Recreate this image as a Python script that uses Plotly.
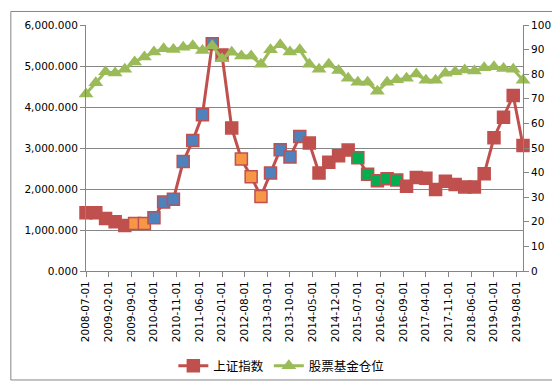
import pandas as pd
import plotly.graph_objects as go

# ---- data ----
dates = [d.strftime("%Y-%m-%d") for d in pd.date_range("2008-07-01", periods=46, freq="QS-JUL")]
sh_index = [1420, 1420, 1280, 1200, 1110, 1160, 1160, 1300, 1680, 1750,
            2670, 3180, 3810, 5540, 5270, 3490, 2730, 2300, 1820, 2390,
            2960, 2780, 3280, 3120, 2390, 2650, 2810, 2950, 2760, 2360,
            2200, 2250, 2220, 2070, 2280, 2260, 1990, 2190, 2110, 2050,
            2050, 2370, 3250, 3750, 4280, 3060]
fund_position = [72, 76.5, 81, 80.5, 82, 85, 87, 89, 90.3, 90,
                 91, 91.6, 89.6, 91.6, 86.3, 88.9, 87.4, 87.4, 84, 89.9,
                 92, 89, 89.9, 84, 82, 84, 81.5, 78.4, 76.7, 76.7,
                 73.1, 76.7, 77.7, 78.4, 80.1, 77.5, 77.5, 80.4, 81, 81.7,
                 81.3, 82.6, 83, 82.3, 82, 77.5]
tick_dates = [d.strftime("%Y-%m-%d") for d in pd.date_range("2008-07-01", periods=20, freq="7MS")]
series_names = ["上证指数", "股票基金仓位"]

# ---- styles ----
RED = "#C0504D"
GREEN = "#9BBB59"
BLUE = "#4F81BD"
ORANGE = "#F79646"
HGREEN = "#00B050"
GRID = "#868686"

fill = [RED] * len(sh_index)
for rng, col in [(range(5, 7), ORANGE), (range(7, 14), BLUE), (range(16, 19), ORANGE),
                 (range(19, 23), BLUE), (range(28, 33), HGREEN)]:
    for i in rng:
        fill[i] = col

FONT = "DejaVu Sans, Noto Sans CJK SC, sans-serif"

fig = go.Figure()
fig.add_trace(go.Scatter(
    x=dates, y=sh_index, name=series_names[0], mode="lines+markers",
    line=dict(color=RED, width=3),
    marker=dict(symbol="square", size=12, color=fill, line=dict(color=RED, width=1.5)),
    cliponaxis=False, yaxis="y"))
fig.add_trace(go.Scatter(
    x=dates, y=fund_position, name=series_names[1], mode="lines+markers",
    line=dict(color=GREEN, width=3),
    marker=dict(symbol="triangle-up", size=13, color=GREEN),
    cliponaxis=False, yaxis="y2"))

fig.update_layout(
    width=560, height=385,
    margin=dict(l=78, r=45, t=17, b=115),
    paper_bgcolor="white", plot_bgcolor="white",
    font=dict(family=FONT, size=10.5, color="#000000"),
    showlegend=True,
    legend=dict(orientation="h", x=0.447, xanchor="center", y=-0.387, yanchor="middle",
                font=dict(size=12.5, family="Noto Sans CJK SC, sans-serif"),
                itemwidth=30, bgcolor="rgba(0,0,0,0)"),
    xaxis=dict(type="date", range=["2008-07-01", "2019-10-01"],
               tickmode="array", tickvals=tick_dates, ticktext=tick_dates,
               tickangle=-90, showgrid=False, showline=True, linecolor=GRID,
               ticks="outside", ticklen=5, tickcolor=GRID, zeroline=False),
    yaxis=dict(range=[0, 6000], dtick=1000, tickformat=",.3f",
               showgrid=True, gridcolor=GRID, gridwidth=1,
               showline=True, linecolor=GRID, ticks="outside", ticklen=5,
               tickcolor=GRID, zeroline=False),
    yaxis2=dict(range=[0, 100], dtick=10, overlaying="y", side="right",
                showgrid=False, showline=True, linecolor=GRID, ticks="outside",
                ticklen=5, tickcolor=GRID, zeroline=False),
)

fig.add_shape(type="rect", xref="paper", yref="paper",
              x0=-0.172, x1=1.096, y0=-0.443, y1=1.055,
              line=dict(color=GRID, width=1), fillcolor="rgba(0,0,0,0)", layer="below")

fig.write_html("out.html")
